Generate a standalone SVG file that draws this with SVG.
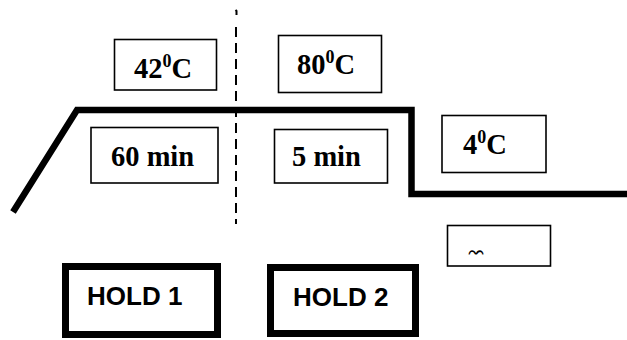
<svg xmlns="http://www.w3.org/2000/svg" width="627" height="340" viewBox="0 0 627 340">
<defs>
<style>
.box{fill:#fff;stroke:#000;stroke-width:1.6}
.hold{fill:#fff;stroke:#000;stroke-width:7}
.t{font-family:"Liberation Serif","Times New Roman",serif;font-weight:bold;font-size:28.5px;fill:#000}
.sup{font-size:18px}
.h{font-family:"Liberation Sans",Arial,sans-serif;font-weight:bold;font-size:26px;fill:#000}
</style>
<clipPath id="cl"><rect x="447" y="240" width="104" height="14.5"/></clipPath>
</defs>
<g id="connectors">
<polyline points="13,212 77,110 411.5,110 411.5,194 627,194" fill="none" stroke="#000" stroke-width="6.5" stroke-linejoin="miter"/>
<path d="M235.5,10 L236.5,11 L236.5,15" fill="none" stroke="#000" stroke-width="2"/>
<line x1="236" y1="27" x2="236" y2="224" stroke="#000" stroke-width="2" stroke-dasharray="10 6"/>
</g>
<g id="n42">
<rect class="box" x="114.5" y="39.5" width="102" height="50.5"/>
<text class="t" x="134" y="78">42<tspan class="sup" dy="-11">0</tspan><tspan dy="11">C</tspan></text>
</g>
<g id="n80">
<rect class="box" x="278.5" y="35.5" width="103" height="57"/>
<text class="t" x="297" y="74">80<tspan class="sup" dy="-11">0</tspan><tspan dy="11">C</tspan></text>
</g>
<g id="n60">
<rect class="box" x="91" y="127.5" width="127" height="55.5"/>
<text class="t" x="111" y="166">60 min</text>
</g>
<g id="n5">
<rect class="box" x="274.5" y="129.5" width="113" height="53.5"/>
<text class="t" x="292" y="166">5 min</text>
</g>
<g id="n4">
<rect class="box" x="442" y="115.5" width="104" height="57"/>
<text class="t" x="463" y="154">4<tspan class="sup" dy="-11">0</tspan><tspan dy="11">C</tspan></text>
</g>
<g id="ninf">
<rect class="box" x="447.5" y="225.5" width="103" height="40.5"/>
<text x="466" y="262" clip-path="url(#cl)" font-family="DejaVu Sans,sans-serif" font-size="24" fill="#000">∞</text>
</g>
<g id="hold1">
<rect class="hold" x="65.5" y="266.5" width="152" height="68"/>
<text class="h" x="87" y="305">HOLD 1</text>
</g>
<g id="hold2">
<rect class="hold" x="270.5" y="267.5" width="145" height="66"/>
<text class="h" x="293" y="306">HOLD 2</text>
</g>
</svg>
